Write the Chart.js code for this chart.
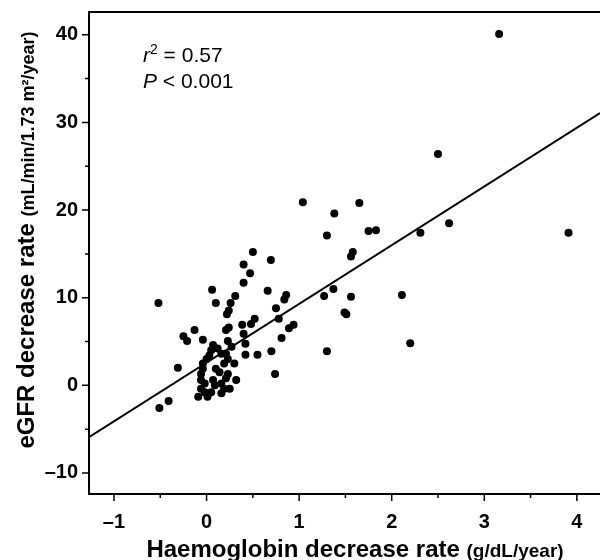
<!DOCTYPE html>
<html>
<head>
<meta charset="utf-8">
<script src="https://cdn.jsdelivr.net/npm/chart.js@4"></script>
<style>
  html, body { margin: 0; padding: 0; background: #fff; }
</style>
</head>
<body>
<canvas id="hbChart" width="600" height="560"></canvas>
<script>
// values, one patient per index
const hbDecrease = [
  3.16, 2.50, 1.04, 1.65, 1.38, 1.75, 1.83, 2.31, 2.62, 3.91,
  1.30, 1.58, 1.56, 1.37, 1.27, 1.56, 2.11, 1.49, 1.51, 2.20,
  1.30, 0.86, 0.84, 0.94, 0.89, 0.81, 0.78, 0.75, 0.70, 0.74,
  0.50, 0.40, 0.695, 0.47, 0.40, 0.06, 0.66, 0.31, 0.26, 0.10,
  -0.52, 0.24, 0.22, 0.52, 0.48, 0.385, 0.24, 0.21, -0.13, -0.25,
  -0.21, -0.04, 0.23, 0.40, 0.42, 0.55, 0.42, -0.31, 0.07, 0.05,
  0.03, 0.12, 0.16, 0.27, 0.21, 0.23, 0.30, -0.04, 0.00, -0.04,
  -0.06, 0.10, 0.14, 0.19, -0.06, -0.02, -0.06, -0.02, 0.07, 0.09,
  0.16, 0.19, 0.23, 0.21, 0.32, 0.25, 0.16, -0.09, 0.01, 0.05,
  -0.41, -0.51
];
const egfrDecrease = [
  40.1, 26.4, 20.9, 20.8, 19.6, 17.6, 17.7, 17.4, 18.5, 17.4,
  17.1, 15.2, 14.7, 11.0, 10.2, 10.1, 10.3, 8.3, 8.1, 4.8,
  3.9, 10.3, 9.8, 6.9, 6.5, 5.4, 7.6, 8.8, 3.9, 1.3,
  15.2, 13.8, 14.3, 12.8, 11.7, 10.9, 10.8, 10.2, 9.4, 9.4,
  9.4, 8.55, 8.1, 7.6, 7.0, 6.9, 6.6, 6.3, 6.3, 5.6,
  5.05, 5.2, 5.05, 5.9, 4.75, 3.5, 3.5, 2.0, 4.6, 4.0,
  3.4, 4.2, 3.6, 4.4, 3.6, 3.0, 2.5, 2.5, 3.0, 1.9,
  1.3, 1.9, 1.5, 2.5, 0.6, 0.2, -0.4, -0.8, 0.6, 0.0,
  0.2, -0.4, 1.3, 0.8, 0.6, -0.4, -0.9, -1.3, -1.3, -0.8,
  -1.8, -2.6
];

const xTicks = [-1, 0, 1, 2, 3, 4];
const xMinorTicks = [-0.5, 0.5, 1.5, 2.5, 3.5];
const yTicks = [-10, 0, 10, 20, 30, 40];
const yMinorTicks = [-5, 5, 15, 25, 35];
const xRange = [-1.27, 4.25];
const yRange = [-12.4, 42.6];

// regression line
const fitSlope = 6.7;
const fitIntercept = 2.6;

const points = hbDecrease.map((v, i) => ({ x: v, y: egfrDecrease[i] }));
const fitLine = xRange.map(v => ({ x: v, y: fitIntercept + fitSlope * v }));

const FONT = "'Liberation Sans', Arial, sans-serif";
const fmtTick = v => (v < 0 ? '\u2013' + Math.abs(v) : String(v));

const frameAndText = {
  id: 'frameAndText',
  afterDraw(chart) {
    const { ctx, chartArea: a, scales: { x, y } } = chart;
    ctx.save();
    ctx.strokeStyle = '#000';
    ctx.lineWidth = 2;
    ctx.strokeRect(a.left, a.top, a.right - a.left + 2, a.bottom - a.top);

    ctx.lineWidth = 1.5;
    ctx.beginPath();
    xTicks.forEach(v => { const p = x.getPixelForValue(v); ctx.moveTo(p, a.bottom); ctx.lineTo(p, a.bottom + 7); });
    xMinorTicks.forEach(v => { const p = x.getPixelForValue(v); ctx.moveTo(p, a.bottom); ctx.lineTo(p, a.bottom + 4); });
    yTicks.forEach(v => { const p = y.getPixelForValue(v); ctx.moveTo(a.left, p); ctx.lineTo(a.left - 7, p); });
    yMinorTicks.forEach(v => { const p = y.getPixelForValue(v); ctx.moveTo(a.left, p); ctx.lineTo(a.left - 4, p); });
    ctx.stroke();

    ctx.fillStyle = '#000';
    ctx.textBaseline = 'alphabetic';
    ctx.textAlign = 'left';

    // x axis title
    const xMain = 'Haemoglobin decrease rate ';
    const xUnit = '(g/dL/year)';
    ctx.font = 'bold 24px ' + FONT;
    const w1 = ctx.measureText(xMain).width;
    ctx.font = 'bold 19px ' + FONT;
    const w2 = ctx.measureText(xUnit).width;
    const sx = 355 - (w1 + w2) / 2;
    ctx.font = 'bold 24px ' + FONT;
    ctx.fillText(xMain, sx, 557);
    ctx.font = 'bold 19px ' + FONT;
    ctx.fillText(xUnit, sx + w1, 557);

    // y axis title
    const yMain = 'eGFR decrease rate ';
    const yUnit = '(mL/min/1.73 m\u00b2/year)';
    ctx.font = 'bold 24px ' + FONT;
    const h1 = ctx.measureText(yMain).width;
    ctx.font = 'bold 18px ' + FONT;
    const h2 = ctx.measureText(yUnit).width;
    ctx.save();
    ctx.translate(34, 240 + (h1 + h2) / 2);
    ctx.rotate(-Math.PI / 2);
    ctx.font = 'bold 24px ' + FONT;
    ctx.fillText(yMain, 0, 0);
    ctx.font = 'bold 18px ' + FONT;
    ctx.fillText(yUnit, h1, 0);
    ctx.restore();

    // stats note
    let tx = 143;
    ctx.font = 'italic 21px ' + FONT;
    ctx.fillText('r', tx, 62);
    tx += ctx.measureText('r').width;
    ctx.font = '14px ' + FONT;
    ctx.fillText('2', tx, 54);
    tx += ctx.measureText('2').width;
    ctx.font = '21px ' + FONT;
    ctx.fillText(' = 0.57', tx, 62);

    tx = 143;
    ctx.font = 'italic 21px ' + FONT;
    ctx.fillText('P', tx, 88);
    tx += ctx.measureText('P').width;
    ctx.font = '21px ' + FONT;
    ctx.fillText(' < 0.001', tx, 88);
    ctx.restore();
  }
};

// let the layout padding alone decide where the plot box sits
const noLabelPadding = s => {
  s.paddingTop = 0;
  s.paddingBottom = 0;
  s.paddingLeft = 0;
  s.paddingRight = 0;
};

new Chart(document.getElementById('hbChart'), {
  type: 'scatter',
  data: {
    datasets: [{
      label: 'patients',
      data: points,
      backgroundColor: '#000',
      borderWidth: 0,
      pointRadius: 4,
      pointHoverRadius: 4
    }, {
      type: 'line',
      label: 'fit',
      data: fitLine,
      borderColor: '#000',
      borderWidth: 2,
      pointRadius: 0,
      fill: false
    }]
  },
  options: {
    responsive: false,
    animation: false,
    events: [],
    layout: { autoPadding: false, padding: { left: 0, top: 12, right: 0, bottom: 0 } },
    plugins: { legend: { display: false }, tooltip: { enabled: false } },
    scales: {
      x: {
        type: 'linear',
        min: xRange[0],
        max: xRange[1],
        afterBuildTicks: s => { s.ticks = xTicks.map(v => ({ value: v })); },
        afterFit: s => { s.height = 66; noLabelPadding(s); },
        border: { display: false },
        grid: { drawOnChartArea: false, drawTicks: true, tickLength: 7, tickColor: 'rgba(0,0,0,0)' },
        ticks: {
          color: '#000',
          padding: 9,
          maxRotation: 0,
          font: { family: FONT, size: 20, weight: 'bold' },
          callback: fmtTick
        }
      },
      y: {
        type: 'linear',
        min: yRange[0],
        max: yRange[1],
        afterBuildTicks: s => { s.ticks = yTicks.map(v => ({ value: v })); },
        afterFit: s => { s.width = 89; noLabelPadding(s); },
        border: { display: false },
        grid: { drawOnChartArea: false, drawTicks: true, tickLength: 7, tickColor: 'rgba(0,0,0,0)' },
        ticks: {
          color: '#000',
          padding: 4,
          font: { family: FONT, size: 20, weight: 'bold' },
          callback: fmtTick
        }
      }
    }
  },
  plugins: [frameAndText]
});
</script>
</body>
</html>
